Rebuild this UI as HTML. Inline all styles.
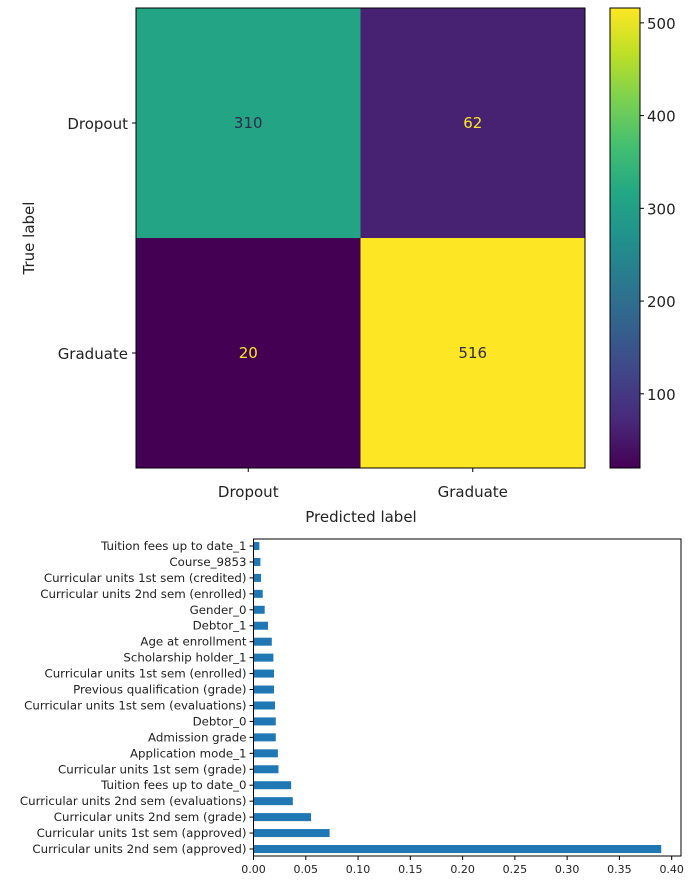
<!DOCTYPE html>
<html><head><meta charset="utf-8"><style>
html,body{margin:0;padding:0;background:#fff;width:700px;height:880px;overflow:hidden}
svg{display:block;font-family:"DejaVu Sans","Liberation Sans",sans-serif}
</style></head><body>
<svg id="chart" width="700" height="880">
<defs><linearGradient id="vir" x1="0" y1="1" x2="0" y2="0">
<stop offset="0" stop-color="#440154"/><stop offset="0.1" stop-color="#482878"/><stop offset="0.2" stop-color="#414487"/><stop offset="0.3" stop-color="#355f8d"/><stop offset="0.4" stop-color="#2a788e"/><stop offset="0.5" stop-color="#21918c"/><stop offset="0.6" stop-color="#22a884"/><stop offset="0.7" stop-color="#44bf70"/><stop offset="0.8" stop-color="#7ad151"/><stop offset="0.9" stop-color="#bddf26"/><stop offset="1" stop-color="#fde725"/></linearGradient></defs>
<g id="cm"></g>
<g id="bars"></g>
</svg>
<script>
const cmClasses = ["Dropout","Graduate"];
const cmValues = [[310,62],[20,516]];
const cbTicks = [100,200,300,400,500];
const features = ["Tuition fees up to date_1","Course_9853","Curricular units 1st sem (credited)","Curricular units 2nd sem (enrolled)","Gender_0","Debtor_1","Age at enrollment","Scholarship holder_1","Curricular units 1st sem (enrolled)","Previous qualification (grade)","Curricular units 1st sem (evaluations)","Debtor_0","Admission grade","Application mode_1","Curricular units 1st sem (grade)","Tuition fees up to date_0","Curricular units 2nd sem (evaluations)","Curricular units 2nd sem (grade)","Curricular units 1st sem (approved)","Curricular units 2nd sem (approved)"];
const importances = [0.0056,0.0066,0.0072,0.0088,0.0107,0.0139,0.0175,0.019,0.0196,0.0196,0.0206,0.0213,0.0213,0.0233,0.0239,0.036,0.0376,0.055,0.0728,0.390];
const xTicks = [0,0.05,0.10,0.15,0.20,0.25,0.30,0.35,0.40];
const NS="http://www.w3.org/2000/svg";
function mk(p,t,a,txt){const e=document.createElementNS(NS,t);for(const k in a)e.setAttribute(k,a[k]);if(txt!==undefined)e.textContent=txt;p.appendChild(e);return e;}
const stops=[[0,[68,1,84]],[0.1,[72,40,120]],[0.2,[65,68,135]],[0.3,[53,95,141]],[0.4,[42,120,142]],[0.5,[33,145,140]],[0.6,[34,168,132]],[0.7,[68,191,112]],[0.8,[122,209,81]],[0.9,[189,223,38]],[1,[253,231,37]]];
function viridis(t){t=Math.max(0,Math.min(1,t));for(let i=1;i<stops.length;i++){if(t<=stops[i][0]){const a=stops[i-1],b=stops[i];const f=(t-a[0])/(b[0]-a[0]);const c=a[1].map((v,j)=>Math.round(v+(b[1][j]-v)*f));return`rgb(${c})`;}}return"rgb(253,231,37)";}
const cm=document.getElementById('cm');
const L=136,R=585,T=8,B=468;const cw=(R-L)/2,ch=(B-T)/2;
const flat=cmValues.flat();const vmin=Math.min(...flat),vmax=Math.max(...flat);
cmValues.forEach((row,i)=>row.forEach((v,j)=>{
 const t=(v-vmin)/(vmax-vmin);
 const r=mk(cm,'rect',{x:L+j*cw,y:T+i*ch,width:cw,height:ch,fill:viridis(t)});
 
 
 const tx=mk(cm,'text',{x:L+(j+0.5)*cw,y:T+(i+0.5)*ch+5,'text-anchor':'middle','font-size':15,fill:t>0.5?'#2f2a4a':'#fde725'},v);
 
 
}));
mk(cm,'rect',{x:L,y:T,width:R-L,height:B-T,fill:'none',stroke:'#000','stroke-width':1});
cmClasses.forEach((c,i)=>{
 const y=T+(i+0.5)*ch;mk(cm,'line',{x1:L-4,x2:L,y1:y,y2:y,stroke:'#000'});
 const t1=mk(cm,'text',{x:L-8,y:y+6,'text-anchor':'end','font-size':15,fill:'#222'},c);
 
 
 const x=L+(i+0.5)*cw;mk(cm,'line',{x1:x,x2:x,y1:B,y2:B+4,stroke:'#000'});
 const t2=mk(cm,'text',{x:x,y:B+29,'text-anchor':'middle','font-size':15,fill:'#222'},c);
 
 
});
let yt=mk(cm,'text',{x:0,y:0,transform:'translate(34,238) rotate(-90)','text-anchor':'middle','font-size':15,fill:'#222'},'True label');


let xt=mk(cm,'text',{x:361,y:522,'text-anchor':'middle','font-size':15,fill:'#222'},'Predicted label');


const cb=mk(cm,'rect',{x:610,y:T,width:30,height:B-T,fill:'url(#vir)',stroke:'#000','stroke-width':1});


cbTicks.forEach(v=>{const y=B-(v-vmin)/(vmax-vmin)*(B-T);mk(cm,'line',{x1:640,x2:644,y1:y,y2:y,stroke:'#000'});
 const t=mk(cm,'text',{x:647,y:y+6,'font-size':15,fill:'#222'},v);
 
 });
const bg=document.getElementById('bars');
const bL=253.5,bR=681,bT=539,bB=856;
const xs=v=>bL+v/0.40*(671.7-bL);
const step=(849-546)/(features.length-1);
features.forEach((f,i)=>{const yc=546+i*step;
 const r=mk(bg,'rect',{x:bL,y:yc-4,width:xs(importances[i])-bL,height:8,fill:'#1f77b4'});
 
 
 mk(bg,'line',{x1:bL-4,x2:bL,y1:yc,y2:yc,stroke:'#000'});
 const t=mk(bg,'text',{x:bL-7,y:yc+4,'text-anchor':'end','font-size':11.8,fill:'#222'},f);
 
 });
mk(bg,'rect',{x:bL,y:bT,width:bR-bL,height:bB-bT,fill:'none',stroke:'#000','stroke-width':1});
xTicks.forEach(v=>{const x=xs(v);mk(bg,'line',{x1:x,x2:x,y1:bB,y2:bB+4,stroke:'#000'});
 const t=mk(bg,'text',{x:x,y:bB+17,'text-anchor':'middle','font-size':11,fill:'#222'},v.toFixed(2));
 
 });
</script>
</body></html>
